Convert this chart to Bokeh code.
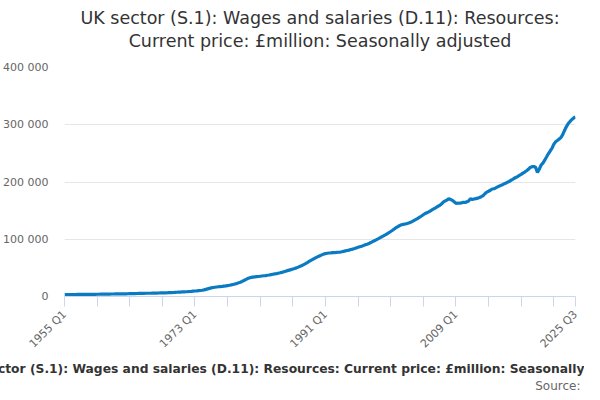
import math
from bokeh.plotting import figure
from bokeh.models import Range1d, FixedTicker, Title, ColumnDataSource
from bokeh.embed import file_html
from bokeh.resources import INLINE

# ---- data -------------------------------------------------------------
years = list(range(1955, 2026))
quarters = [f"{y} Q{q}" for y in years for q in (1, 2, 3, 4)][:283]  # 1955 Q1 .. 2025 Q3

wages = [
    3300, 3330, 3370, 3400,      # 1955
    3440, 3480, 3510, 3540,      # 1956
    3570, 3610, 3650, 3680,      # 1957
    3700, 3720, 3740, 3770,      # 1958
    3800, 3840, 3890, 3940,      # 1959
    4000, 4060, 4120, 4170,      # 1960
    4230, 4300, 4360, 4400,      # 1961
    4440, 4480, 4520, 4560,      # 1962
    4600, 4660, 4730, 4800,      # 1963
    4880, 4960, 5050, 5130,      # 1964
    5220, 5310, 5390, 5460,      # 1965
    5550, 5640, 5700, 5720,      # 1966
    5770, 5840, 5920, 6010,      # 1967
    6110, 6210, 6310, 6400,      # 1968
    6500, 6600, 6720, 6850,      # 1969
    7030, 7240, 7450, 7650,      # 1970
    7810, 7970, 8120, 8280,      # 1971
    8480, 8700, 8980, 9300,      # 1972
    9580, 9860, 10180, 10500,    # 1973
    10950, 11600, 12450, 13300,  # 1974
    14150, 15000, 15650, 16150,  # 1975
    16600, 17000, 17400, 17750,  # 1976
    18150, 18550, 19100, 19650,  # 1977
    20300, 21050, 21800, 22550,  # 1978
    23800, 25000, 26300, 27900,  # 1979
    29600, 31300, 32500, 33300,  # 1980
    33800, 34200, 34600, 35000,  # 1981
    35400, 35800, 36200, 36600,  # 1982
    37100, 37600, 38200, 38800,  # 1983
    39400, 40000, 40700, 41400,  # 1984
    42200, 43100, 44100, 45200,  # 1985
    46100, 47000, 47900, 48900,  # 1986
    50000, 51300, 52700, 54200,  # 1987
    55800, 57500, 59300, 61200,  # 1988
    63100, 64900, 66700, 68400,  # 1989
    69800, 71300, 72700, 74000,  # 1990
    75000, 75600, 76000, 76200,  # 1991
    76500, 76800, 77000, 77300,  # 1992
    77600, 78200, 78900, 79600,  # 1993
    80300, 81000, 82000, 82800,  # 1994
    83700, 84800, 85900, 86900,  # 1995
    87900, 89000, 90200, 91400,  # 1996
    92700, 94200, 95800, 97400,  # 1997
    99000, 100600, 102300, 104100,   # 1998
    105800, 107600, 109500, 111400,  # 1999
    113500, 115700, 118000, 120200,  # 2000
    122200, 124000, 125200, 126000,  # 2001
    126700, 127400, 128300, 129600,  # 2002
    131200, 133000, 134800, 136600,  # 2003
    138500, 140600, 142800, 145000,  # 2004
    146400, 147800, 149700, 151600,  # 2005
    153400, 155200, 157300, 159000,  # 2006
    161500, 164800, 166800, 168300,  # 2007
    170500, 169800, 168000, 165600,  # 2008
    162500, 163400, 162800, 163500,  # 2009
    164600, 164200, 165300, 166800,  # 2010
    170600, 169400, 170200, 170900,  # 2011
    171800, 172900, 174300, 176200,  # 2012
    179500, 182400, 183900, 185600,  # 2013
    187800, 188200, 189800, 191500,  # 2014
    192900, 194500, 195800, 197400,  # 2015
    198800, 200400, 202200, 204000,  # 2016
    206100, 207800, 209500, 211400,  # 2017
    213300, 215500, 217400, 219600,  # 2018
    222100, 225500, 226700, 226900,  # 2019
    225600, 216800, 222300, 229500,  # 2020
    232800, 238100, 243600, 249200,  # 2021
    254100, 258600, 265800, 270200,  # 2022
    272500, 275100, 277600, 283200,  # 2023
    290400, 296800, 302100, 305800,  # 2024
    309200, 311800, 313500,          # 2025
]

tick_positions = [0, 18, 36, 54, 72, 90, 108, 126, 144, 162, 180, 198, 216, 234, 252, 270, 282]
labelled_ticks = ["1955 Q1", "1973 Q1", "1991 Q1", "2009 Q1", "2025 Q3"]
y_ticks = [0, 100000, 200000, 300000, 400000]
y_tick_labels = ["0", "100 000", "200 000", "300 000", "400 000"]

title_line1 = "UK sector (S.1): Wages and salaries (D.11): Resources:"
title_line2 = "Current price: £million: Seasonally adjusted"
caption = "UK sector (S.1): Wages and salaries (D.11): Resources: Current price: £million: Seasonally adjusted"
source_text = "Source:"

# ---- figure -----------------------------------------------------------
FONT = "DejaVu Sans"
src = ColumnDataSource(dict(x=list(range(len(wages))), y=wages))

p = figure(width=584, height=392, output_backend="svg", toolbar_location=None,
           x_range=Range1d(0, len(wages) - 1), y_range=Range1d(0, 400000),
           min_border_left=63, min_border_right=9, min_border_top=67, min_border_bottom=96)
p.outline_line_color = None
p.background_fill_color = "white"
p.border_fill_color = "white"

p.line("x", "y", source=src, line_color="#0a7bc2", line_width=3.2)

# x axis
xa = p.xaxis[0]
xa.ticker = FixedTicker(ticks=tick_positions, minor_ticks=[])
xa.major_label_overrides = {i: (quarters[i] if quarters[i] in labelled_ticks else "") for i in tick_positions}
xa.major_label_orientation = math.pi / 4
xa.axis_line_color = "#ccd6eb"
xa.major_tick_line_color = "#ccd6eb"
xa.major_tick_in = 0
xa.major_tick_out = 10
xa.minor_tick_line_color = None
xa.major_label_text_font = FONT
xa.major_label_text_font_size = "11px"
xa.major_label_text_color = "#666666"
xa.major_label_standoff = 6

# y axis
ya = p.yaxis[0]
ya.ticker = FixedTicker(ticks=y_ticks, minor_ticks=[])
ya.major_label_overrides = dict(zip(y_ticks, y_tick_labels))
ya.axis_line_color = None
ya.major_tick_line_color = None
ya.minor_tick_line_color = None
ya.major_tick_in = 0
ya.major_tick_out = 0
ya.major_label_standoff = 16
ya.major_label_text_font = FONT
ya.major_label_text_font_size = "11px"
ya.major_label_text_color = "#666666"

p.xgrid.grid_line_color = None
p.ygrid.grid_line_color = "#e6e6e6"
p.ygrid.ticker = FixedTicker(ticks=y_ticks)

# titles above (later added = further from the plot)
t2 = Title(text=title_line2, align="center", text_font=FONT, text_font_size="17.5px",
           text_color="#333333", text_font_style="normal", standoff=33)
t1 = Title(text=title_line1, align="center", text_font=FONT, text_font_size="17.5px",
           text_color="#333333", text_font_style="normal", standoff=-30)
p.add_layout(t2, "above")
p.add_layout(t1, "above")

# caption and source below
cap = Title(text=caption, align="left", offset=-106, text_font=FONT, text_font_size="12.3px",
            text_color="#333333", text_font_style="bold", standoff=2)
srct = Title(text=source_text, align="right", offset=-5, text_font=FONT, text_font_size="12px",
             text_color="#666666", text_font_style="normal", standoff=0)
p.add_layout(cap, "below")
p.add_layout(srct, "below")

open("out.html", "w").write(file_html(p, INLINE))
